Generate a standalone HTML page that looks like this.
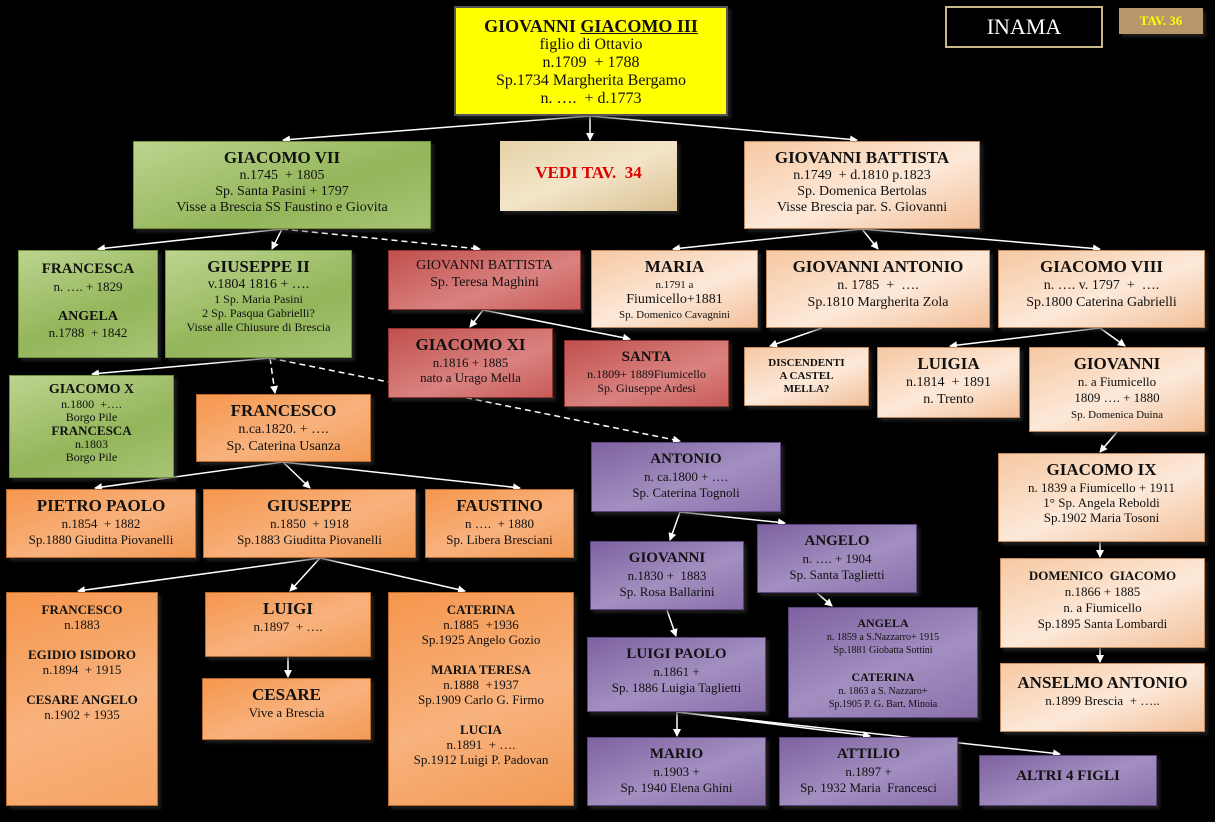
<!DOCTYPE html>
<html><head><meta charset="utf-8"><style>
body{margin:0;width:1215px;height:822px;background:#000;position:relative;overflow:hidden;font-family:"Liberation Serif",serif;}
.b{position:absolute;box-sizing:border-box;text-align:center;color:#111;font-size:13px;line-height:15px;box-shadow:3px 3px 3px rgba(50,50,50,.6);padding-top:6px}
.b b{font-size:17px;line-height:20px;display:block}
.g{background:linear-gradient(160deg,#bcd48f,#94b55a 60%,#a7c474);border:1px solid #6f8f3a}
.p{background:linear-gradient(160deg,#f6c8a2,#fde9d9 55%,#f2c09a);border:1px solid #c08a60}
.r{background:linear-gradient(160deg,#c0504d,#d98280 60%,#c85b58);border:1px solid #8c3330}
.o{background:linear-gradient(160deg,#f5964d,#f8b27d 55%,#f29a55);border:1px solid #b86a2e}
.v{background:linear-gradient(160deg,#7d62a0,#a28fc0 55%,#8a70ab);border:1px solid #5b4480}
.sm{font-size:11px;line-height:13px}
svg{position:absolute;left:0;top:0}
</style></head><body>
<svg width="1215" height="822">
<defs><marker id="a" markerWidth="8" markerHeight="8" refX="7" refY="4" orient="auto" markerUnits="userSpaceOnUse"><path d="M0,0 L8,4 L0,8 z" fill="#fff"/></marker></defs>
<g stroke="#fff" stroke-width="1.5" fill="none" marker-end="url(#a)">
<line x1="590" y1="116" x2="283" y2="140"/><line x1="590" y1="116" x2="590" y2="140"/><line x1="590" y1="116" x2="857" y2="140"/>
<line x1="282" y1="229" x2="98" y2="249"/><line x1="282" y1="229" x2="272" y2="249"/>
<line x1="282" y1="229" x2="480" y2="249" stroke-dasharray="6,4"/>
<line x1="862" y1="229" x2="673" y2="249"/><line x1="862" y1="229" x2="878" y2="249"/><line x1="862" y1="229" x2="1100" y2="249"/>
<line x1="483" y1="310" x2="470" y2="327"/><line x1="483" y1="310" x2="630" y2="339"/>
<line x1="270" y1="358" x2="92" y2="374"/>
<line x1="270" y1="358" x2="275" y2="393" stroke-dasharray="6,4"/>
<line x1="270" y1="358" x2="680" y2="441" stroke-dasharray="6,4"/>
<line x1="822" y1="328" x2="770" y2="346"/>
<line x1="1100" y1="328" x2="950" y2="346"/><line x1="1100" y1="328" x2="1125" y2="346"/>
<line x1="1117" y1="432" x2="1100" y2="452"/>
<line x1="1100" y1="542" x2="1100" y2="557"/><line x1="1100" y1="648" x2="1100" y2="662"/>
<line x1="283" y1="462" x2="95" y2="488"/><line x1="283" y1="462" x2="310" y2="488"/><line x1="283" y1="462" x2="520" y2="488"/>
<line x1="320" y1="558" x2="78" y2="591"/><line x1="320" y1="558" x2="290" y2="591"/><line x1="320" y1="558" x2="465" y2="591"/>
<line x1="288" y1="657" x2="288" y2="677"/>
<line x1="680" y1="512" x2="670" y2="540"/><line x1="680" y1="512" x2="785" y2="523"/>
<line x1="667" y1="610" x2="676" y2="636"/>
<line x1="817" y1="593" x2="832" y2="606"/>
<line x1="677" y1="712" x2="677" y2="736"/><line x1="677" y1="712" x2="870" y2="736"/><line x1="677" y1="712" x2="1060" y2="754"/>
</g></svg>

<div class="b" style="left:454px;top:6px;width:274px;height:110px;background:#ffff00;border:2px solid #555;font-size:16px;line-height:18px;padding-top:8px"><b style="font-size:18px">GIOVANNI <u>GIACOMO III</u></b>figlio di Ottavio<br>n.1709 &nbsp;+ 1788<br>Sp.1734 Margherita Bergamo<br>n. …. &nbsp;+ d.1773</div>
<div class="b" style="left:945px;top:6px;width:158px;height:42px;background:#000;border:2px solid #c9b98a;color:#fff;font-size:22px;line-height:26px;padding-top:6px;box-shadow:none">INAMA</div>
<div class="b" style="left:1119px;top:8px;width:84px;height:26px;background:#b8966a;color:#ffff00;font-weight:bold;font-size:13px;padding-top:5px">TAV. 36</div>

<div class="b g" style="left:133px;top:141px;width:298px;height:88px;font-size:14px;line-height:16px"><b>GIACOMO VII</b>n.1745 &nbsp;+ 1805<br>Sp. Santa Pasini + 1797<br>Visse a Brescia SS Faustino e Giovita</div>
<div class="b" style="left:500px;top:141px;width:177px;height:70px;background:linear-gradient(160deg,#e6d2a8,#f3e5c8,#d9c193);color:#e00000;font-weight:bold;font-size:17px;padding-top:24px">VEDI TAV. &nbsp;34</div>
<div class="b p" style="left:744px;top:141px;width:236px;height:88px;font-size:14px;line-height:16px"><b>GIOVANNI BATTISTA</b>n.1749 &nbsp;+ d.1810 p.1823<br>Sp. Domenica Bertolas<br>Visse Brescia par. S. Giovanni</div>

<div class="b g" style="left:18px;top:250px;width:140px;height:108px;padding-top:8px"><b style="font-size:15px">FRANCESCA</b>n. …. + 1829<br><br><b style="font-size:14px;line-height:16px">ANGELA</b>n.1788 &nbsp;+ 1842</div>
<div class="b g" style="left:165px;top:250px;width:187px;height:108px;font-size:12px;line-height:14px"><b>GIUSEPPE II</b><span style="font-size:14px">v.1804 1816 + ….</span><br>1 Sp. Maria Pasini<br>2 Sp. Pasqua Gabrielli?<br>Visse alle Chiusure di Brescia</div>
<div class="b r" style="left:388px;top:250px;width:193px;height:60px;font-size:14px;line-height:17px">GIOVANNI BATTISTA<br>Sp. Teresa Maghini</div>
<div class="b p" style="left:591px;top:250px;width:167px;height:78px;font-size:14px;line-height:15px"><b>MARIA</b><span class="sm">n.1791 a</span><br>Fiumicello+1881<br><span class="sm">Sp. Domenico Cavagnini</span></div>
<div class="b p" style="left:766px;top:250px;width:224px;height:78px;font-size:14px;line-height:17px"><b>GIOVANNI ANTONIO</b>n. 1785 &nbsp;+ &nbsp;….<br>Sp.1810 Margherita Zola</div>
<div class="b p" style="left:998px;top:250px;width:207px;height:78px;font-size:14px;line-height:17px"><b>GIACOMO VIII</b>n. …. v. 1797 &nbsp;+ &nbsp;….<br>Sp.1800 Caterina Gabrielli</div>

<div class="b r" style="left:388px;top:328px;width:165px;height:70px"><b>GIACOMO XI</b>n.1816 + 1885<br>nato a Urago Mella</div>
<div class="b r" style="left:564px;top:340px;width:165px;height:67px;font-size:12px;line-height:14px"><b style="font-size:15px">SANTA</b>n.1809+ 1889Fiumicello<br>Sp. Giuseppe Ardesi</div>
<div class="b p" style="left:744px;top:347px;width:125px;height:59px;font-weight:bold;font-size:11px;line-height:13px;padding-top:9px">DISCENDENTI<br>A CASTEL<br>MELLA?</div>
<div class="b p" style="left:877px;top:347px;width:143px;height:71px;font-size:14px;line-height:17px"><b>LUIGIA</b>n.1814 &nbsp;+ 1891<br>n. Trento</div>
<div class="b p" style="left:1029px;top:347px;width:176px;height:85px;font-size:13px;line-height:16px"><b>GIOVANNI</b>n. a Fiumicello<br>1809 …. + 1880<br><span class="sm">Sp. Domenica Duina</span></div>

<div class="b g" style="left:9px;top:375px;width:165px;height:103px;font-size:12px;line-height:13px"><b style="font-size:14px;line-height:16px">GIACOMO X</b>n.1800 &nbsp;+….<br>Borgo Pile<br><b style="font-size:13px;line-height:14px">FRANCESCA</b>n.1803<br>Borgo Pile</div>
<div class="b o" style="left:196px;top:394px;width:175px;height:68px;font-size:14px;line-height:17px"><b>FRANCESCO</b>n.ca.1820. + ….<br>Sp. Caterina Usanza</div>
<div class="b v" style="left:591px;top:442px;width:190px;height:70px;font-size:13px;line-height:16px"><b style="font-size:15px">ANTONIO</b>n. ca.1800 + ….<br>Sp. Caterina Tognoli</div>
<div class="b p" style="left:998px;top:453px;width:207px;height:89px;font-size:13px;line-height:15px"><b>GIACOMO IX</b>n. 1839 a Fiumicello + 1911<br>1° Sp. Angela Reboldi<br>Sp.1902 Maria Tosoni</div>

<div class="b o" style="left:6px;top:489px;width:190px;height:69px;font-size:13px;line-height:16px"><b>PIETRO PAOLO</b>n.1854 &nbsp;+ 1882<br>Sp.1880 Giuditta Piovanelli</div>
<div class="b o" style="left:203px;top:489px;width:213px;height:69px;font-size:13px;line-height:16px"><b>GIUSEPPE</b>n.1850 &nbsp;+ 1918<br>Sp.1883 Giuditta Piovanelli</div>
<div class="b o" style="left:425px;top:489px;width:149px;height:69px;font-size:13px;line-height:16px"><b>FAUSTINO</b>n …. &nbsp;+ 1880<br>Sp. Libera Bresciani</div>

<div class="b v" style="left:590px;top:541px;width:154px;height:69px;font-size:13px;line-height:16px"><b style="font-size:15px">GIOVANNI</b>n.1830 + &nbsp;1883<br>Sp. Rosa Ballarini</div>
<div class="b v" style="left:757px;top:524px;width:160px;height:69px;font-size:13px;line-height:16px"><b style="font-size:15px">ANGELO</b>n. …. + 1904<br>Sp. Santa Taglietti</div>
<div class="b p" style="left:1000px;top:558px;width:205px;height:90px;font-size:13px;line-height:16px;padding-top:9px"><b style="font-size:13px;line-height:16px">DOMENICO &nbsp;GIACOMO</b>n.1866 + 1885<br>n. a Fiumicello<br>Sp.1895 Santa Lombardi</div>

<div class="b o" style="left:6px;top:592px;width:152px;height:214px;background:linear-gradient(160deg,#f5964d,#f8b27d 55%,#f6a465);font-size:13px;line-height:15px;padding-top:9px"><b style="font-size:13px;line-height:15px">FRANCESCO</b>n.1883<br><br><b style="font-size:13px;line-height:15px">EGIDIO ISIDORO</b>n.1894 &nbsp;+ 1915<br><br><b style="font-size:13px;line-height:15px">CESARE ANGELO</b>n.1902 + 1935</div>
<div class="b o" style="left:205px;top:592px;width:166px;height:65px;font-size:13px"><b>LUIGI</b>n.1897 &nbsp;+ ….</div>
<div class="b o" style="left:388px;top:592px;width:186px;height:214px;font-size:13px;line-height:15px;padding-top:9px"><b style="font-size:13px;line-height:15px">CATERINA</b>n.1885 &nbsp;+1936<br>Sp.1925 Angelo Gozio<br><br><b style="font-size:13px;line-height:15px">MARIA TERESA</b>n.1888 &nbsp;+1937<br>Sp.1909 Carlo G. Firmo<br><br><b style="font-size:13px;line-height:15px">LUCIA</b>n.1891 &nbsp;+ ….<br>Sp.1912 Luigi P. Padovan</div>

<div class="b v" style="left:587px;top:637px;width:179px;height:75px;font-size:13px;line-height:16px"><b style="font-size:15px">LUIGI PAOLO</b>n.1861 +<br>Sp. 1886 Luigia Taglietti</div>
<div class="b v" style="left:788px;top:607px;width:190px;height:111px;font-size:10px;line-height:13px;padding-top:8px"><b style="font-size:12px;line-height:15px">ANGELA</b>n. 1859 a S.Nazzarro+ 1915<br>Sp.1881 Giobatta Sottini<br><br><b style="font-size:12px;line-height:15px">CATERINA</b>n. 1863 a S. Nazzaro+<br>Sp.1905 P. G. Bart. Minoia</div>
<div class="b p" style="left:1000px;top:663px;width:205px;height:69px;font-size:13px;line-height:16px;padding-top:9px"><b>ANSELMO ANTONIO</b>n.1899 Brescia &nbsp;+ …..</div>
<div class="b o" style="left:202px;top:678px;width:169px;height:62px;font-size:13px"><b>CESARE</b>Vive a Brescia</div>

<div class="b v" style="left:587px;top:737px;width:179px;height:69px;font-size:13px;line-height:16px"><b style="font-size:15px">MARIO</b>n.1903 +<br>Sp. 1940 Elena Ghini</div>
<div class="b v" style="left:779px;top:737px;width:179px;height:69px;font-size:13px;line-height:16px"><b style="font-size:15px">ATTILIO</b>n.1897 +<br>Sp. 1932 Maria &nbsp;Francesci</div>
<div class="b v" style="left:979px;top:755px;width:178px;height:51px;padding-top:10px"><b style="font-size:15px">ALTRI 4 FIGLI</b></div>
</body></html>
